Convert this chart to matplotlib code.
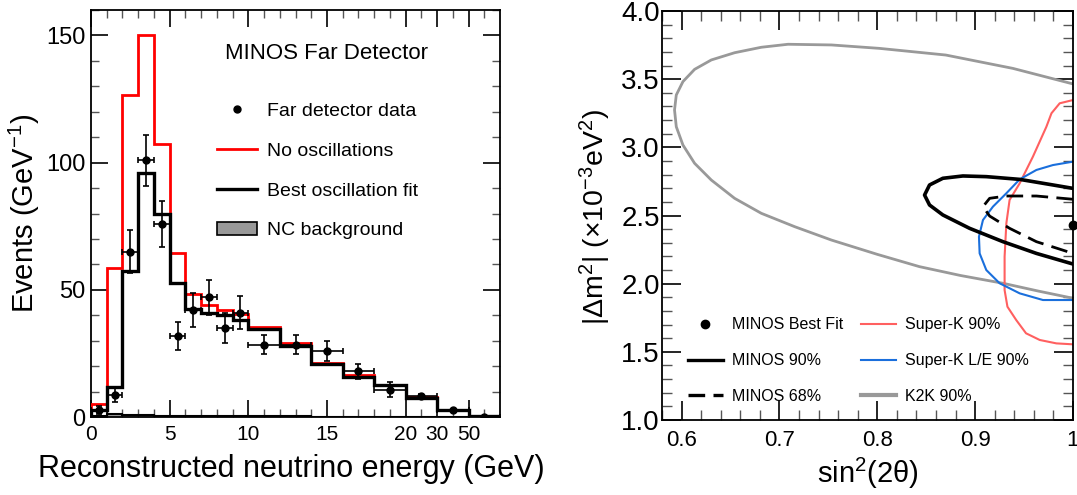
import matplotlib
matplotlib.use("Agg")
import matplotlib.pyplot as plt
from matplotlib.lines import Line2D
from matplotlib.patches import Patch
import numpy as np

plt.rcParams["font.family"] = ["Liberation Sans", "DejaVu Sans"]
plt.rcParams["mathtext.fontset"] = "custom"
plt.rcParams["mathtext.rm"] = "Liberation Sans"
plt.rcParams["mathtext.it"] = "Liberation Sans:italic"
plt.rcParams["mathtext.bf"] = "Liberation Sans:bold"
plt.rcParams["axes.linewidth"] = 1.3
plt.rcParams["lines.solid_joinstyle"] = "round"
plt.rcParams["lines.dash_joinstyle"] = "round"

# ---- left panel: MINOS far detector energy spectrum (events / GeV)
bin_edges = [0, 1, 2, 3, 4, 5, 6, 7, 8, 9, 10, 12, 14, 16, 18, 20, 30, 50, 200]
no_osc = [5.2, 58.4, 126.6, 150.0, 107.3, 64.6, 48.3, 44.2, 42.0, 40.3,
          35.4, 28.9, 21.3, 16.5, 12.7, 7.9, 2.9, 0.5]
best_fit = [2.6, 11.8, 57.3, 96.0, 79.7, 52.5, 42.3, 40.7, 40.0, 38.3,
            34.5, 27.8, 21.0, 15.7, 12.7, 7.6, 2.6, 0.3]
nc_bkg = [0.4, 1.2, 0.9, 0.6, 0.4, 0.3, 0.3, 0.2, 0.2, 0.2,
          0.2, 0.2, 0.1, 0.1, 0.1, 0.1, 0.05, 0.02]
data_y = [2.6, 8.8, 65.0, 101.0, 75.9, 31.9, 42.0, 47.0, 34.8, 40.9,
          28.5, 28.5, 25.9, 18.0, 10.8, 8.3, 2.9, 0.0]
data_yerr = [1.6, 3.0, 8.5, 10.0, 9.0, 5.6, 6.6, 7.0, 5.9, 6.5,
             3.9, 3.9, 3.9, 3.0, 2.8, 0.9, 0.4, 0.1]

# display axis: linear up to 20 GeV, then each wide bin gets two units
knots_e = [0, 20, 30, 50, 200]
knots_u = [0, 20, 22, 24, 26]
xtick_e = [0, 5, 10, 15, 20, 30, 50]
xminor_e = list(range(1, 20)) + [25, 40, 125]

# ---- right panel: allowed regions in (sin^2 2theta, dm^2)
k2k_x = [1.0, 0.9386, 0.870, 0.802, 0.7531, 0.7088, 0.6815, 0.6542, 0.6304,
         0.6133, 0.6014, 0.5946, 0.5928, 0.5946, 0.6014, 0.6133, 0.6304,
         0.6542, 0.6815, 0.7156, 0.7531, 0.80, 0.843, 0.885, 0.9284, 0.965, 1.0]
k2k_y = [3.465, 3.579, 3.677, 3.726, 3.751, 3.756, 3.734, 3.694, 3.641,
         3.572, 3.482, 3.384, 3.274, 3.151, 3.017, 2.883, 2.760,
         2.626, 2.516, 2.418, 2.320, 2.215, 2.125, 2.060, 2.003, 1.945, 1.893]
minos90_x = [1.0, 0.9795, 0.9455, 0.9114, 0.8875, 0.867, 0.8534, 0.8483,
             0.8534, 0.867, 0.8943, 0.9284, 0.9626, 1.0]
minos90_y = [2.699, 2.724, 2.765, 2.785, 2.790, 2.773, 2.724, 2.650,
             2.577, 2.504, 2.406, 2.308, 2.222, 2.144]
minos68_x = [1.0, 0.9626, 0.9319, 0.9148, 0.908, 0.9148, 0.9352, 0.9626, 1.0]
minos68_y = [2.619, 2.643, 2.643, 2.626, 2.565, 2.496, 2.406, 2.308, 2.222]
superk_x = [1.0, 0.9864, 0.978, 0.9728, 0.959, 0.9455, 0.9352, 0.9319, 0.9301,
            0.9301, 0.933, 0.942, 0.952, 0.966, 0.983, 1.0]
superk_y = [3.347, 3.323, 3.250, 3.151, 2.931, 2.736, 2.614, 2.443, 2.198,
            1.953, 1.831, 1.733, 1.636, 1.587, 1.562, 1.555]
superk_le_x = [1.0, 0.9795, 0.9626, 0.9455, 0.9319, 0.9182, 0.908, 0.9039,
               0.9046, 0.9114, 0.925, 0.9455, 0.9693, 1.0]
superk_le_y = [2.895, 2.870, 2.834, 2.765, 2.663, 2.565, 2.467, 2.345,
               2.222, 2.100, 2.003, 1.929, 1.880, 1.880]
best_x = [1.0]
best_y = [2.43]

RED = "#ff0000"
SK_RED = "#ff6060"
SK_BLUE = "#1a6fdc"
K2K_GREY = "#999999"


def fwd(e):
    return np.interp(e, knots_e, knots_u)


def inv(u):
    return np.interp(u, knots_u, knots_e)


fig = plt.figure(figsize=(10.77, 4.95), dpi=100)
ax1 = fig.add_axes([91 / 1077, 1 - 417 / 495, 409 / 1077, 407 / 495])
ax2 = fig.add_axes([662 / 1077, 1 - 420 / 495, 411 / 1077, 409 / 495])

# ---------------- left
edges = np.array(bin_edges, dtype=float)
centers = (edges[:-1] + edges[1:]) / 2
half = (edges[1:] - edges[:-1]) / 2

ax1.set_xscale("function", functions=(fwd, inv))
ax1.stairs(nc_bkg, edges, fill=True, color="#999999", zorder=1)
ax1.stairs(nc_bkg, edges, color="black", lw=1.5, zorder=2)
ax1.stairs(no_osc, edges, color=RED, lw=2.0, zorder=3)
ax1.stairs(best_fit, edges, color="black", lw=2.4, zorder=4)
ax1.errorbar(centers, data_y, xerr=half, yerr=data_yerr, fmt="o", color="black",
             ms=5, elinewidth=1.2, capsize=2, capthick=1.2, zorder=5)

ax1.set_xlim(0, 200)
ax1.set_ylim(0, 160)
ax1.set_xticks(xtick_e)
ax1.set_xticklabels([str(v) for v in xtick_e])
ax1.set_xticks(xminor_e, minor=True)
ax1.set_yticks([0, 50, 100, 150])
ax1.set_yticks(np.arange(0, 161, 10), minor=True)
ax1.tick_params(axis="both", which="both", direction="in", top=True, right=True)
ax1.tick_params(which="major", length=12, width=1.2)
ax1.tick_params(which="minor", length=6, width=1.0, color="#555555")
ax1.tick_params(axis="x", which="major", labelsize=15, pad=6)
ax1.tick_params(axis="y", which="major", labelsize=17, pad=4)

ax1.set_xlabel("Reconstructed neutrino energy (GeV)", fontsize=22)
ax1.xaxis.set_label_coords(0.489, -0.09)
ax1.set_ylabel("Events (GeV$^{-1}$)", fontsize=21)
ax1.yaxis.set_label_coords(-0.12, 0.5)

ax1.text(0.577, 0.894, "MINOS Far Detector", transform=ax1.transAxes,
         ha="center", va="center", fontsize=16)
handles1 = [
    Line2D([], [], color="black", marker="o", ms=5, ls="none"),
    Line2D([], [], color=RED, lw=2.0),
    Line2D([], [], color="black", lw=2.4),
    Patch(facecolor="#999999", edgecolor="black", lw=1.2),
]
labels1 = ["Far detector data", "No oscillations", "Best oscillation fit", "NC background"]
ax1.legend(handles1, labels1, loc="upper left", bbox_to_anchor=(0.307, 0.773),
           frameon=False, fontsize=14, handlelength=2.1, handletextpad=0.5,
           labelspacing=1.14, borderpad=0, borderaxespad=0)

# ---------------- right
ax2.plot(k2k_x, k2k_y, color=K2K_GREY, lw=2.0)
ax2.plot(superk_x, superk_y, color=SK_RED, lw=1.5)
ax2.plot(superk_le_x, superk_le_y, color=SK_BLUE, lw=1.5)
ax2.plot(minos90_x, minos90_y, color="black", lw=2.6)
ax2.plot(minos68_x, minos68_y, color="black", lw=2.0, dashes=(6, 3))
ax2.plot(best_x, best_y, "o", color="black", ms=6, clip_on=False, zorder=6)

ax2.set_xlim(0.58, 1.0)
ax2.set_ylim(1.0, 4.0)
ax2.set_xticks([0.6, 0.7, 0.8, 0.9, 1.0])
ax2.set_xticklabels(["0.6", "0.7", "0.8", "0.9", "1"])
ax2.set_xticks(np.arange(0.58, 1.001, 0.02), minor=True)
ax2.set_yticks(np.arange(1.0, 4.01, 0.5))
ax2.set_yticklabels([f"{v:.1f}" for v in np.arange(1.0, 4.01, 0.5)])
ax2.set_yticks(np.arange(1.0, 4.01, 0.1), minor=True)
ax2.tick_params(axis="both", which="both", direction="in", top=True, right=True)
ax2.tick_params(which="major", length=14, width=1.2)
ax2.tick_params(which="minor", length=7, width=1.0, color="#555555")
ax2.tick_params(axis="x", which="major", labelsize=16, pad=7)
ax2.tick_params(axis="y", which="major", labelsize=20, pad=1.5)

ax2.set_xlabel("sin$^{2}$(2θ)", fontsize=21)
ax2.xaxis.set_label_coords(0.5, -0.087)
ax2.set_ylabel("|Δm$^{2}$| (×10$^{-3}$eV$^{2}$)", fontsize=20.5)
ax2.yaxis.set_label_coords(-0.119, 0.496)

handles2 = [
    Line2D([], [], color="black", marker="o", ms=6, ls="none"),
    Line2D([], [], color="black", lw=2.4),
    Line2D([], [], color="black", lw=2.4, dashes=(5, 2.5)),
    Line2D([], [], color=SK_RED, lw=1.5),
    Line2D([], [], color=SK_BLUE, lw=1.5),
    Line2D([], [], color=K2K_GREY, lw=3.0),
]
labels2 = ["MINOS Best Fit", "MINOS 90%", "MINOS 68%",
           "Super-K 90%", "Super-K L/E 90%", "K2K 90%"]
ax2.legend(handles2, labels2, loc="upper left", bbox_to_anchor=(0.063, 0.251),
           ncol=2, frameon=False, fontsize=11.5, handlelength=2.2,
           handletextpad=0.55, labelspacing=1.3, columnspacing=1.1,
           borderpad=0, borderaxespad=0)

fig.savefig("out.png", dpi=100)
